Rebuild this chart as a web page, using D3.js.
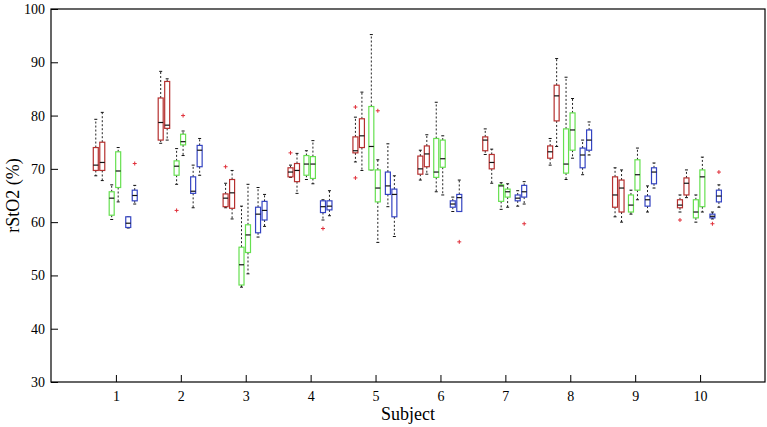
<!DOCTYPE html>
<html>
<head>
<meta charset="utf-8">
<script src="https://cdn.jsdelivr.net/npm/d3@7"></script>
<style>
  body { margin: 0; background: #fff; }
  svg { display: block; }
  text { font-family: "Liberation Serif", "DejaVu Serif", serif; }
</style>
</head>
<body>
<svg id="chart" width="767" height="427"></svg>
<script>
// subjects on the x axis
const subjects = [1, 2, 3, 4, 5, 6, 7, 8, 9, 10]
const yTicks = [30, 40, 50, 60, 70, 80, 90, 100]

// each row: [lower whisker, q1, median, q3, upper whisker], one row per subject
const red1 = [
  [68.7, 69.7, 70.7, 74.0, 79.3], [74.8, 75.4, 78.7, 83.3, 88.3], [62.7, 62.9, 64.5, 65.3, 67.3],
  [68.4, 68.5, 69.4, 70.2, 70.7], [71.3, 73.0, 73.4, 76.0, 79.7], [67.9, 69.0, 70.0, 72.4, 73.5],
  [72.7, 73.4, 75.4, 76.0, 77.5], [70.7, 72.0, 73.2, 74.3, 75.7], [61.0, 62.8, 65.1, 68.5, 70.2],
  [61.9, 62.7, 63.2, 64.2, 65.1]
]
const red2 = [
  [67.8, 69.7, 71.2, 75.0, 80.6], [75.4, 77.6, 78.2, 86.4, 86.9], [60.6, 62.6, 65.5, 68.0, 69.7],
  [65.4, 67.6, 69.7, 71.0, 72.9], [69.7, 74.0, 76.2, 79.4, 84.4], [69.0, 70.4, 72.8, 74.3, 76.4],
  [67.3, 70.0, 71.2, 72.7, 73.7], [74.2, 79.0, 83.7, 85.7, 90.7], [60.0, 61.9, 66.4, 67.9, 69.8],
  [64.6, 65.1, 67.3, 68.3, 69.8]
]
const green1 = [
  [60.5, 61.3, 64.5, 65.7, 67.0], [67.1, 68.8, 70.5, 71.5, 73.8], [47.8, 48.2, 52.0, 55.3, 63.0],
  [68.0, 68.8, 70.9, 72.5, 73.4], [69.8, 69.8, 74.2, 81.7, 95.2], [65.7, 68.4, 69.4, 75.7, 82.5],
  [62.4, 63.9, 66.8, 67.0, 67.4], [68.0, 69.2, 70.9, 77.5, 87.2], [61.5, 61.9, 63.2, 65.1, 66.0],
  [60.0, 60.8, 61.9, 64.2, 65.1]
]
const green2 = [
  [63.8, 66.5, 69.6, 73.2, 74.0], [72.5, 74.5, 75.1, 76.5, 77.1], [50.3, 54.3, 57.6, 59.5, 67.1],
  [67.2, 68.2, 70.9, 72.3, 75.3], [56.2, 63.8, 66.4, 69.8, 71.7], [65.1, 70.3, 71.9, 75.4, 76.2],
  [62.8, 64.7, 65.7, 66.2, 67.2], [72.0, 73.5, 77.3, 80.5, 83.2], [64.2, 66.0, 68.9, 71.7, 73.9],
  [61.9, 62.9, 68.5, 69.8, 72.2]
]
const blue1 = [
  [58.9, 59.0, 59.8, 61.0, 61.0], [62.7, 65.4, 65.8, 68.5, 70.7], [57.2, 58.0, 61.5, 62.8, 66.5],
  [60.4, 61.8, 62.9, 64.0, 64.2], [62.9, 65.2, 66.8, 69.4, 74.7], [62.0, 62.8, 63.4, 64.0, 64.7],
  [63.0, 64.0, 64.5, 65.1, 65.9], [68.9, 70.2, 72.6, 73.9, 75.4], [61.9, 63.0, 64.2, 64.9, 66.8],
  [60.6, 60.8, 61.1, 61.5, 61.9]
]
const blue2 = [
  [63.4, 64.0, 65.0, 66.0, 66.9], [68.8, 70.4, 73.5, 74.4, 75.7], [59.2, 60.4, 62.2, 63.9, 65.2],
  [61.2, 62.3, 63.0, 64.0, 65.9], [57.3, 61.0, 65.2, 66.2, 68.7], [62.0, 62.0, 64.6, 65.2, 67.9],
  [63.4, 64.7, 65.7, 66.9, 67.6], [72.6, 73.5, 75.4, 77.3, 78.8], [66.4, 67.2, 69.4, 70.2, 71.1],
  [62.8, 63.8, 64.9, 66.0, 67.0]
]

// outliers: [subject, series index, value]
const outliers = [
  [1, 5, 71.0], [2, 2, 62.2], [2, 3, 80.0], [3, 0, 70.4], [4, 0, 73.0], [4, 4, 58.8],
  [5, 0, 81.6], [5, 0, 68.3], [5, 3, 80.9], [6, 5, 56.3], [7, 5, 59.7],
  [10, 0, 60.4], [10, 4, 59.7], [10, 5, 69.4]
]

const seriesList = [red1, red2, green1, green2, blue1, blue2]
const seriesColors = ['#b5302f', '#b5302f', '#66e050', '#66e050', '#3444c2', '#3444c2']
const seriesOffsets = [-0.31, -0.21, -0.065, 0.035, 0.19, 0.29]

const svg = d3.select('#chart')
const margin = { top: 9, right: 2, bottom: 45, left: 51 }
const W = 767, H = 427

const x = d3.scaleLinear().domain([0, 11]).range([margin.left, W - margin.right])
const y = d3.scaleLinear().domain([30, 100]).range([H - margin.bottom, margin.top])

const boxW = 5
const capW = 3

// flatten to one entry per box
const boxes = []
seriesList.forEach((series, si) => {
  series.forEach((s, i) => {
    boxes.push({
      cx: x(subjects[i] + seriesOffsets[si]),
      lo: s[0], q1: s[1], med: s[2], q3: s[3], hi: s[4],
      color: seriesColors[si]
    })
  })
})

const g = svg.append('g')

// whiskers
g.selectAll('.whisker-up')
  .data(boxes)
  .join('line')
  .attr('x1', d => d.cx).attr('x2', d => d.cx)
  .attr('y1', d => y(d.q3)).attr('y2', d => y(d.hi))
  .attr('stroke', '#222').attr('stroke-width', 1)
  .attr('stroke-dasharray', '2,2')

g.selectAll('.whisker-down')
  .data(boxes)
  .join('line')
  .attr('x1', d => d.cx).attr('x2', d => d.cx)
  .attr('y1', d => y(d.q1)).attr('y2', d => y(d.lo))
  .attr('stroke', '#222').attr('stroke-width', 1)
  .attr('stroke-dasharray', '2,2')

// caps
const caps = []
boxes.forEach(d => { caps.push({ cx: d.cx, v: d.hi }); caps.push({ cx: d.cx, v: d.lo }) })
g.selectAll('.cap')
  .data(caps)
  .join('line')
  .attr('x1', d => d.cx - capW / 2).attr('x2', d => d.cx + capW / 2)
  .attr('y1', d => y(d.v)).attr('y2', d => y(d.v))
  .attr('stroke', '#111').attr('stroke-width', 1)

// boxes
g.selectAll('.box')
  .data(boxes)
  .join('rect')
  .attr('x', d => d.cx - boxW / 2)
  .attr('y', d => y(d.q3))
  .attr('width', boxW)
  .attr('height', d => Math.max(0.5, y(d.q1) - y(d.q3)))
  .attr('fill', 'white')
  .attr('stroke', d => d.color)
  .attr('stroke-width', 1.2)

// medians
g.selectAll('.median')
  .data(boxes)
  .join('line')
  .attr('x1', d => d.cx - boxW / 2).attr('x2', d => d.cx + boxW / 2)
  .attr('y1', d => y(d.med)).attr('y2', d => y(d.med))
  .attr('stroke', '#111').attr('stroke-width', 1.2)

// outliers as red plus signs
g.selectAll('.outlier')
  .data(outliers)
  .join('path')
  .attr('d', d => {
    const px = x(d[0] + seriesOffsets[d[1]]), py = y(d[2])
    return `M${px - 2},${py}H${px + 2}M${px},${py - 2}V${py + 2}`
  })
  .attr('stroke', '#e0303a').attr('stroke-width', 1)

// frame
svg.append('rect')
  .attr('x', margin.left).attr('y', margin.top)
  .attr('width', W - margin.left - margin.right)
  .attr('height', H - margin.top - margin.bottom)
  .attr('fill', 'none').attr('stroke', '#000').attr('stroke-width', 1.2)

// axes, ticks pointing inward
const xAxis = d3.axisBottom(x).tickValues(subjects).tickSize(-7).tickPadding(9)
svg.append('g')
  .attr('transform', `translate(0,${H - margin.bottom})`)
  .call(xAxis)
  .call(a => a.select('.domain').remove())
  .call(a => a.selectAll('text').attr('font-size', 14).attr('fill', '#000')
    .style('font-family', '"Liberation Serif", serif'))

const yAxis = d3.axisLeft(y).tickValues(yTicks).tickSize(-7).tickPadding(6)
svg.append('g')
  .attr('transform', `translate(${margin.left},0)`)
  .call(yAxis)
  .call(a => a.select('.domain').remove())
  .call(a => a.selectAll('text').attr('font-size', 14).attr('fill', '#000')
    .style('font-family', '"Liberation Serif", serif'))

svg.append('text')
  .attr('x', (margin.left + W - margin.right) / 2)
  .attr('y', 420)
  .attr('text-anchor', 'middle')
  .attr('font-size', 18)
  .text('Subject')

svg.append('text')
  .attr('transform', `translate(19,${(margin.top + H - margin.bottom) / 2}) rotate(-90)`)
  .attr('text-anchor', 'middle')
  .attr('font-size', 18)
  .text('rStO2 (%)')
</script>
</body>
</html>
